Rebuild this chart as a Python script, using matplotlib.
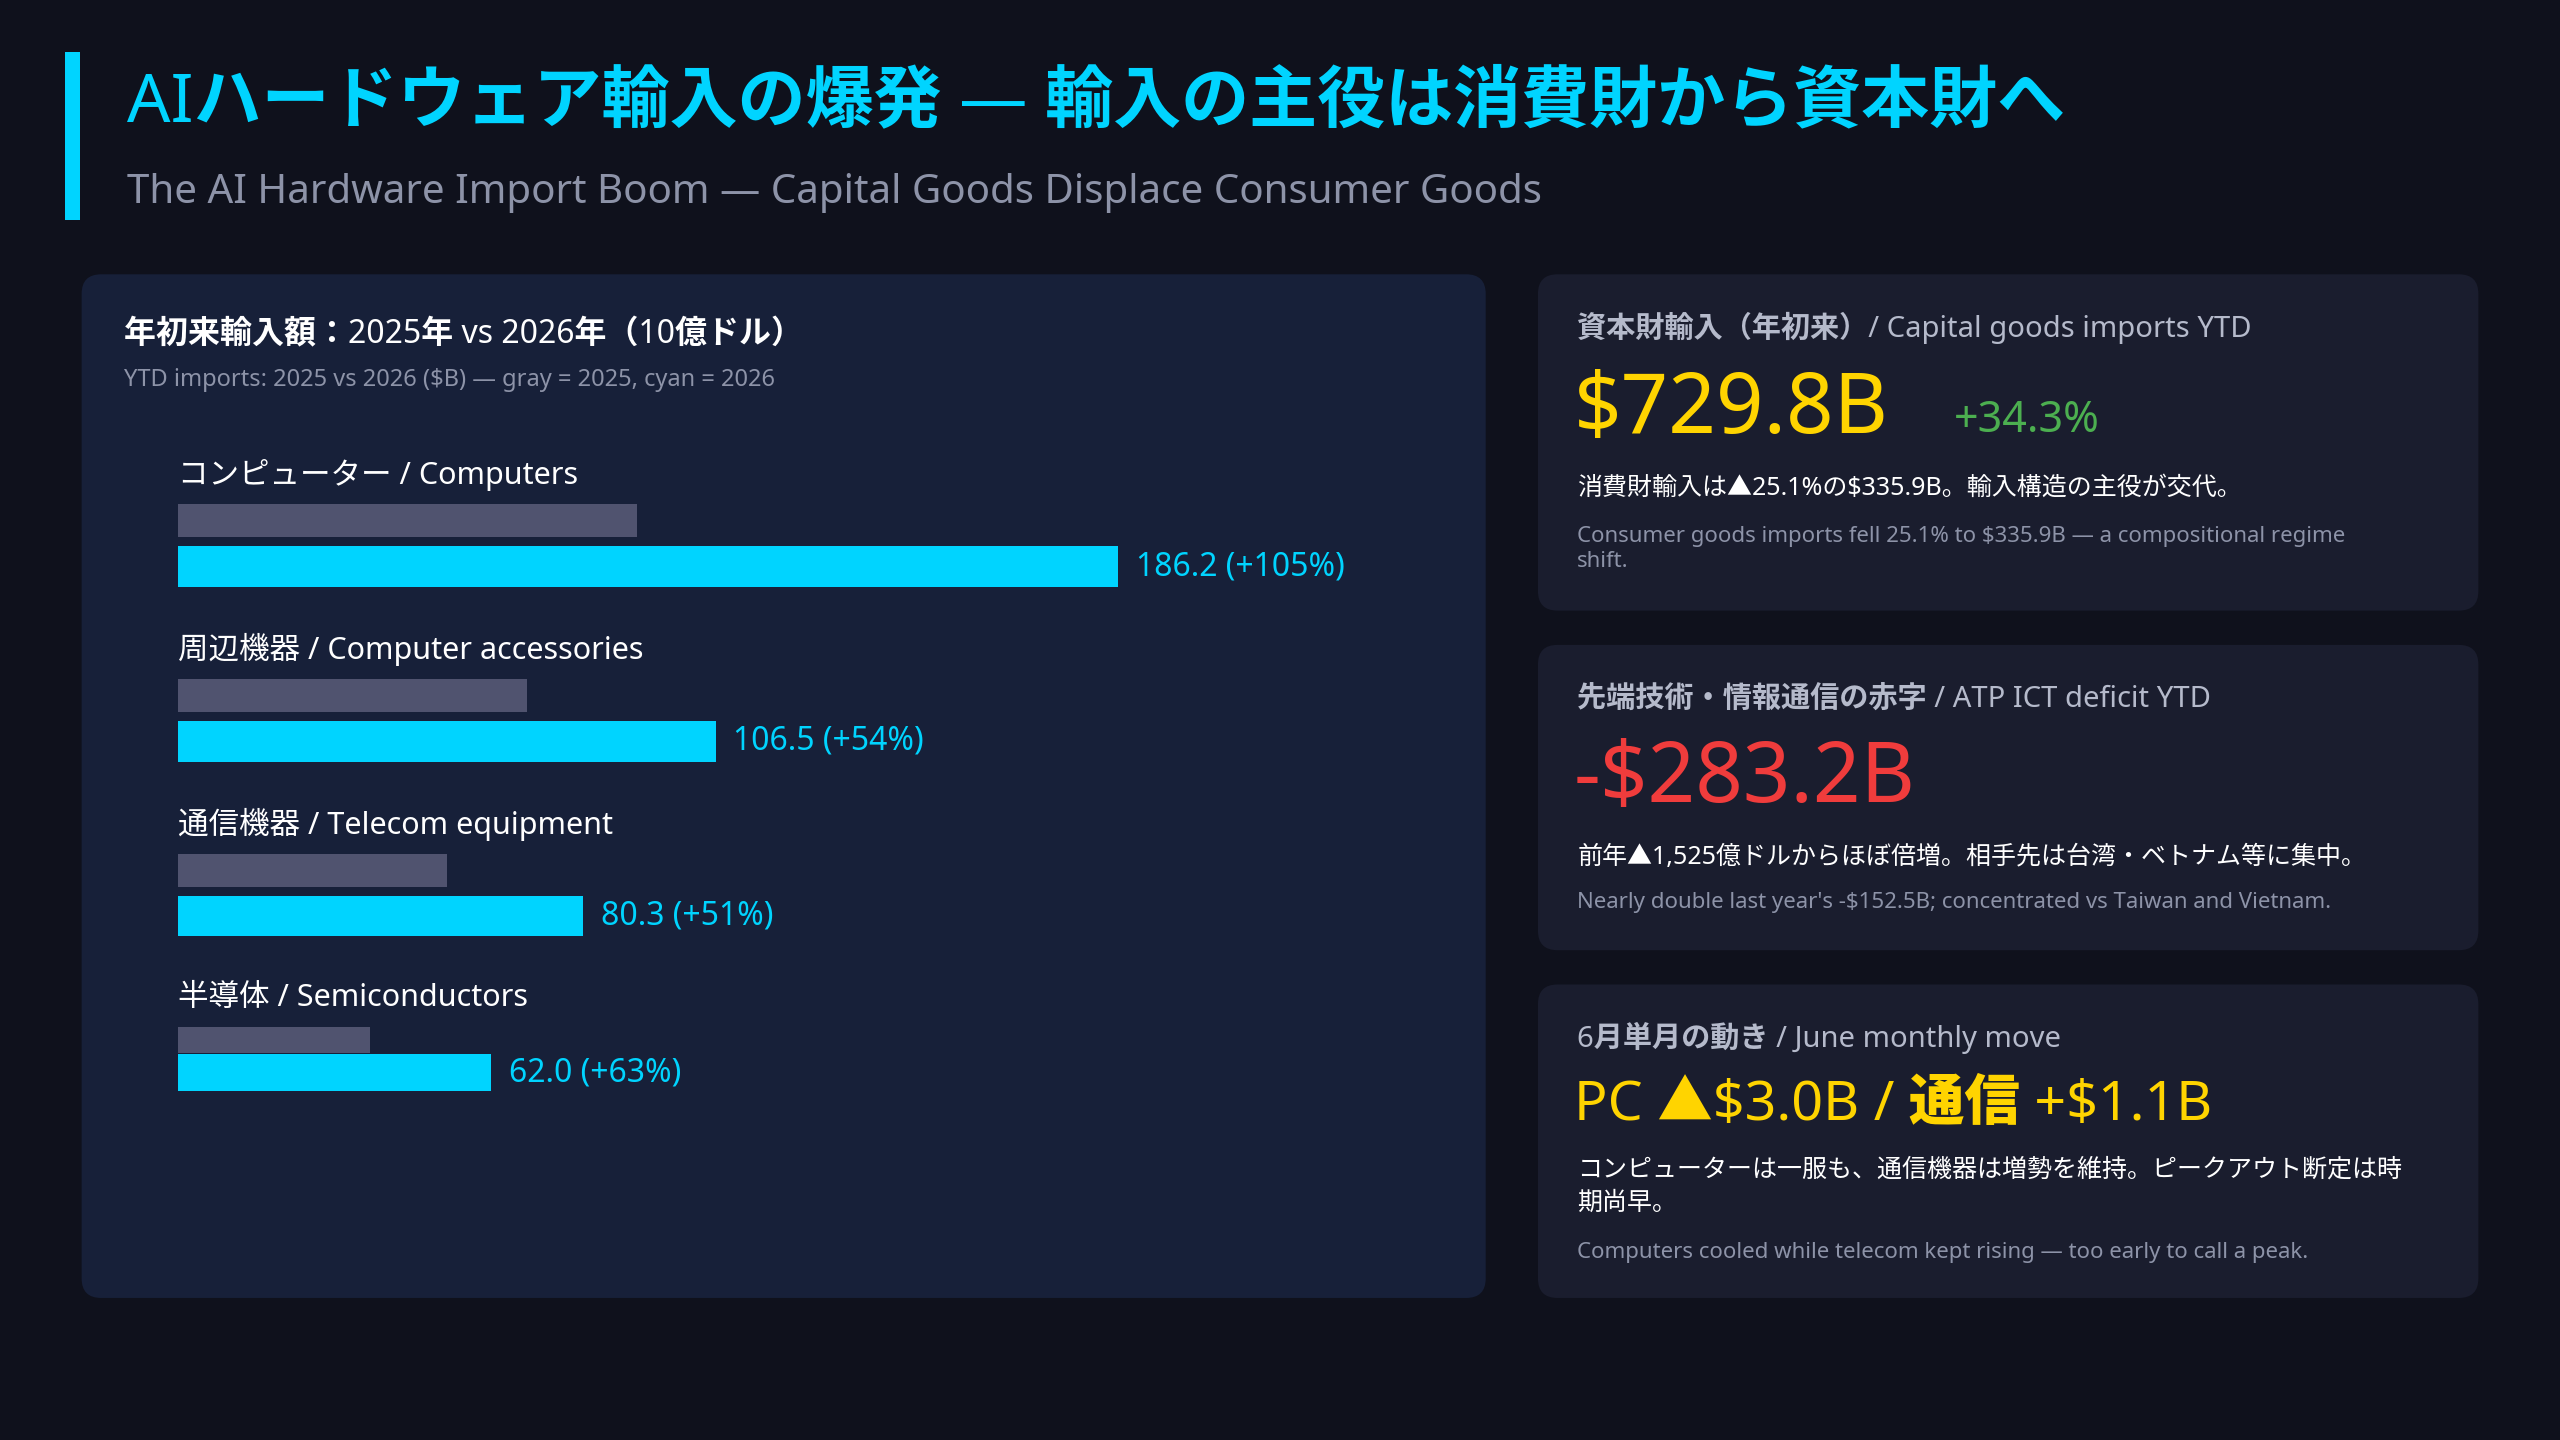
import matplotlib
matplotlib.use("Agg")
import numpy as np
from matplotlib import pyplot as plt
from matplotlib.patches import FancyBboxPatch, Rectangle

plt.rcParams['font.family'] = ['Noto Sans', 'Noto Sans CJK JP', 'DejaVu Sans']
plt.rcParams['text.parse_math'] = False

# data
categories = ["コンピューター / Computers", "周辺機器 / Computer accessories",
              "通信機器 / Telecom equipment", "半導体 / Semiconductors"]
ytd2026 = [186.2, 106.5, 80.3, 62.0]
growthPct = [105, 54, 51, 63]
ytd2025 = [v / (1 + g / 100) for v, g in zip(ytd2026, growthPct)]

BG = "#0f111c"
PANEL = "#172039"
CARD = "#1a1d2e"
CYAN = "#00d4ff"
GRAY = "#50536f"
YELLOW = "#ffd400"

W, H = 1568, 882
fig = plt.figure(figsize=(25.6, 14.4), dpi=100, facecolor=BG)
bg = fig.add_axes([0, 0, 1, 1])
bg.set_xlim(0, W)
bg.set_ylim(H, 0)
bg.axis("off")


def box(x0, y0, x1, y1, color):
    bg.add_patch(FancyBboxPatch((x0, y0), x1 - x0, y1 - y0,
                                boxstyle="round,pad=0,rounding_size=12",
                                facecolor=color, edgecolor="none"))


def txt(x, y, s, size, color, weight="normal", **kw):
    bg.text(x, y, s, fontsize=size, color=color, fontweight=weight,
            va="center", ha="left", **kw)


# header
bg.add_patch(Rectangle((40, 32), 9, 103, facecolor=CYAN, edgecolor="none"))
txt(78, 63, "AIハードウェア輸入の爆発 — 輸入の主役は消費財から資本財へ", 49, CYAN, "bold")
txt(78, 118, "The AI Hardware Import Boom — Capital Goods Displace Consumer Goods", 29, "#8d93a8")

# left panel
box(50, 168, 910, 795, PANEL)
txt(76, 205, "年初来輸入額：2025年 vs 2026年（10億ドル）", 23, "white", "bold")
txt(76, 233, "YTD imports: 2025 vs 2026 ($B) — gray = 2025, cyan = 2026", 17, "#8d93a8")

# right cards
box(942, 168, 1518, 374, CARD)
txt(966, 201, "資本財輸入（年初来）/ Capital goods imports YTD", 21, "#b5bacb", "bold")
txt(964, 252, "$729.8B", 60, YELLOW, "heavy")
txt(1197, 258, "+34.3%", 31, "#4caf50", "heavy")
txt(966, 299, "消費財輸入は▲25.1%の$335.9B。輸入構造の主役が交代。", 18, "white")
txt(966, 336, "Consumer goods imports fell 25.1% to $335.9B — a compositional regime\nshift.",
    16, "#8d93a8", linespacing=1.25)

box(942, 395, 1518, 582, CARD)
txt(966, 428, "先端技術・情報通信の赤字 / ATP ICT deficit YTD", 21, "#b5bacb", "bold")
txt(964, 478, "-$283.2B", 60, "#f03c3c", "heavy")
txt(966, 525, "前年▲1,525億ドルからほぼ倍増。相手先は台湾・ベトナム等に集中。", 18, "white")
txt(966, 553, "Nearly double last year's -$152.5B; concentrated vs Taiwan and Vietnam.", 16, "#8d93a8")

box(942, 603, 1518, 795, CARD)
txt(966, 636, "6月単月の動き / June monthly move", 21, "#b5bacb", "bold")
txt(964, 677, "PC ▲$3.0B / 通信 +$1.1B", 40, YELLOW, "heavy")
txt(966, 727, "コンピューターは一服も、通信機器は増勢を維持。ピークアウト断定は時\n期尚早。",
    18, "white", linespacing=1.45)
txt(966, 767, "Computers cooled while telecom kept rising — too early to call a peak.", 16, "#8d93a8")

# bars: axes mapped onto panel, y in pixel rows
ax = fig.add_axes([109 / W, 1 - 795 / H, 800 / W, (795 - 168) / H])
ax.set_xlim(0, 800 / 3.093)
ax.set_ylim(795, 168)
ax.axis("off")
step = 107
for i, (cat, v25, v26, g) in enumerate(zip(categories, ytd2025, ytd2026, growthPct)):
    top = 291 + i * step - (1 if i == 3 else 0)
    ax.text(0, top, cat, fontsize=22, color="white", va="center")
    gh, ch = (20, 25) if i < 3 else (16, 23)
    ax.barh(top + 28 if i < 3 else top + 26, v25, height=gh, color=GRAY, align="center")
    cy = top + 56 if i < 3 else top + 46
    ax.barh(cy, v26, height=ch, color=CYAN, align="center")
    ax.text(v26 + 3.5, cy, f"{v26:.1f} (+{g}%)", fontsize=23, color=CYAN,
            fontweight="bold", va="center")

fig.savefig("out.png", dpi=100, facecolor=BG)
